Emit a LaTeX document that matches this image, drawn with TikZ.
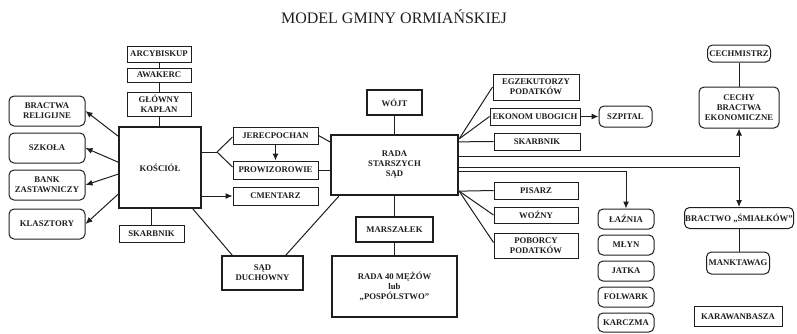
\documentclass[tikz,border=0pt]{standalone}
\usepackage{fontspec}
\setmainfont{Liberation Serif}
\usetikzlibrary{arrows.meta,calc}
\definecolor{ink}{HTML}{1E1E1E}
\begin{document}
\begin{tikzpicture}[x=1pt,y=-1pt,
  every node/.style={inner sep=0pt, align=center, text=ink, font=\bfseries\fontsize{8.7}{10}\selectfont},
  box/.style={draw=ink, line width=1pt},
  rbox/.style={draw=ink, line width=1pt, rounded corners=5pt},
  tbox/.style={draw=ink, line width=2.3pt},
  mbox/.style={draw=ink, line width=1.7pt},
  ln/.style={draw=ink, line width=1pt},
  arr/.style={draw=ink, line width=1pt, -{Latex[length=7pt,width=6pt]}}
]
\useasboundingbox (0,0) rectangle (797,333);

\node[font=\fontsize{16}{18}\selectfont] (title) at (394,17) {MODEL GMINY ORMIAŃSKIEJ};

% left / church side
\node[box, minimum width=64pt, minimum height=16pt] (arcy) at (159,54) {ARCYBISKUP};
\node[box, minimum width=64pt, minimum height=14pt] (awak) at (159,75) {AWAKERC};
\node[box, minimum width=64pt, minimum height=24pt] (glowny) at (159,104) {GŁÓWNY\\KAPŁAN};
\node[mbox, minimum width=82pt, minimum height=81pt] (kosciol) at (160,167.5) {KOŚCIÓŁ};
\node[rbox, minimum width=76pt, minimum height=30pt] (bractwa) at (47,111) {BRACTWA\\RELIGIJNE};
\node[rbox, minimum width=76pt, minimum height=30pt] (szkola) at (47,148) {SZKOŁA};
\node[rbox, minimum width=76pt, minimum height=30pt] (bank) at (47,185) {BANK\\ZASTAWNICZY};
\node[rbox, minimum width=76pt, minimum height=30pt] (klasztory) at (47,224) {KLASZTORY};
\node[box, minimum width=65pt, minimum height=17pt] (skarbL) at (151.5,234) {SKARBNIK};
\node[box, minimum width=85pt, minimum height=17pt] (jerec) at (275.5,135.5) {JERECPOCHAN};
\node[box, minimum width=85pt, minimum height=18pt] (prow) at (275.5,170) {PROWIZOROWIE};
\node[box, minimum width=85pt, minimum height=18pt] (cment) at (275.5,196) {CMENTARZ};
\node[mbox, minimum width=81pt, minimum height=34pt] (sad) at (262.5,273) {SĄD\\DUCHOWNY};

% centre
\node[tbox, minimum width=127pt, minimum height=60pt] (rada) at (394.5,165) {RADA\\STARSZYCH\\SĄD};
\node[tbox, minimum width=55pt, minimum height=25pt] (wojt) at (394.5,102.5) {WÓJT};
\node[tbox, minimum width=77pt, minimum height=25pt] (marsz) at (394.5,229.5) {MARSZAŁEK};
\node[tbox, minimum width=125pt, minimum height=61pt] (rada40) at (394.5,286.5) {RADA 40 MĘŻÓW\\lub\\„POSPÓLSTWO”};

% right side
\node[box, minimum width=86pt, minimum height=26pt] (egz) at (536,87) {EGZEKUTORZY\\PODATKÓW};
\node[box, minimum width=90pt, minimum height=17pt] (ekon) at (535,116.5) {EKONOM UBOGICH};
\node[rbox, minimum width=53pt, minimum height=21pt] (szpital) at (625.5,116.5) {SZPITAL};
\node[box, minimum width=86pt, minimum height=17pt] (skarbR) at (537,141.5) {SKARBNIK};
\node[rbox, minimum width=63pt, minimum height=17pt] (cechm) at (739,53.5) {CECHMISTRZ};
\node[rbox, minimum width=80pt, minimum height=41pt] (cechy) at (739,107.5) {CECHY\\BRACTWA\\EKONOMICZNE};
\node[box, minimum width=84pt, minimum height=17pt] (pisarz) at (536,190.5) {PISARZ};
\node[box, minimum width=84pt, minimum height=16pt] (wozny) at (536,215) {WOŹNY};
\node[box, minimum width=84pt, minimum height=25pt] (poborcy) at (536,245.5) {POBORCY\\PODATKÓW};
\node[rbox, minimum width=56pt, minimum height=20pt] (laznia) at (626,219) {ŁAŹNIA};
\node[rbox, minimum width=56pt, minimum height=20pt] (mlyn) at (626,245) {MŁYN};
\node[rbox, minimum width=56pt, minimum height=20pt] (jatka) at (626,271) {JATKA};
\node[rbox, minimum width=56pt, minimum height=20pt] (folwark) at (626,297) {FOLWARK};
\node[rbox, minimum width=56pt, minimum height=19pt] (karczma) at (626,322.5) {KARCZMA};
\node[rbox, minimum width=109pt, minimum height=21pt] (smialkow) at (739,218) {BRACTWO „ŚMIAŁKÓW”};
\node[rbox, minimum width=63pt, minimum height=22pt] (manktawag) at (738,263) {MANKTAWAG};
\node[box, minimum width=88pt, minimum height=20pt] (karawan) at (738,316.5) {KARAWANBASZA};

% church connectors
\draw[ln] (arcy) -- (awak);
\draw[ln] (awak) -- (glowny);
\draw[ln] (glowny.south) -- (glowny.south |- kosciol.north);
\draw[arr] ([yshift=-10pt]kosciol.north west) -- (bractwa.east);
\draw[arr] ([yshift=-36pt]kosciol.north west) -- (szkola.east);
\draw[arr] ([yshift=-48pt]kosciol.north west) -- (bank.east);
\draw[arr] ([yshift=-68pt]kosciol.north west) -- (klasztory.east);
\coordinate (kb) at (217,152);
\draw[ln] (kosciol.east |- kb) -- (kb);
\draw[ln] (kb) -- ([yshift=-1.5pt]jerec.west);
\draw[ln] (kb) -- ([yshift=3pt]prow.west);
\draw[arr] (jerec) -- (prow);
\draw[arr] (kosciol.east |- cment.west) -- (cment.west);
\draw[ln] (kosciol.south -| skarbL.north) -- (skarbL.north);
\draw[ln] ([xshift=-9pt]kosciol.south east) -- ([xshift=11pt]sad.north west);

% council connectors
\draw[ln] (jerec.east) -- ([yshift=-8pt]rada.north west);
\draw[ln] (prow.east) -- (rada.west |- prow.east);
\draw[ln] (wojt) -- (rada);
\draw[ln] (rada) -- (marsz);
\draw[ln] (marsz) -- (rada40);
\draw[ln] ([xshift=9pt]rada.south west) -- ([xshift=-18pt]sad.north east);

\coordinate (r1) at ([yshift=-5pt]rada.north east);
\draw[ln] (r1) -- (egz.west);
\draw[ln] (r1) -- (ekon.west);
\draw[ln] ([yshift=-8pt]rada.north east) -- (skarbR.west);
\draw[arr] (ekon) -- (szpital);
\draw[ln] (cechm) -- (cechy);
\draw[arr] ([yshift=-23pt]rada.north east) -| (cechy.south);
\draw[arr] ([yshift=-34pt]rada.north east) -| (smialkow.north);
\draw[arr] ([yshift=-38pt]rada.north east) -| (laznia.north);
\draw[ln] (smialkow.south) -- (smialkow.south |- manktawag.north);

\coordinate (r2) at ([yshift=5pt]rada.south east);
\draw[ln] (r2) -- (pisarz.west);
\draw[ln] (r2) -- (wozny.west);
\draw[ln] (r2) -- ([yshift=3pt]poborcy.west);
\end{tikzpicture}
\end{document}
